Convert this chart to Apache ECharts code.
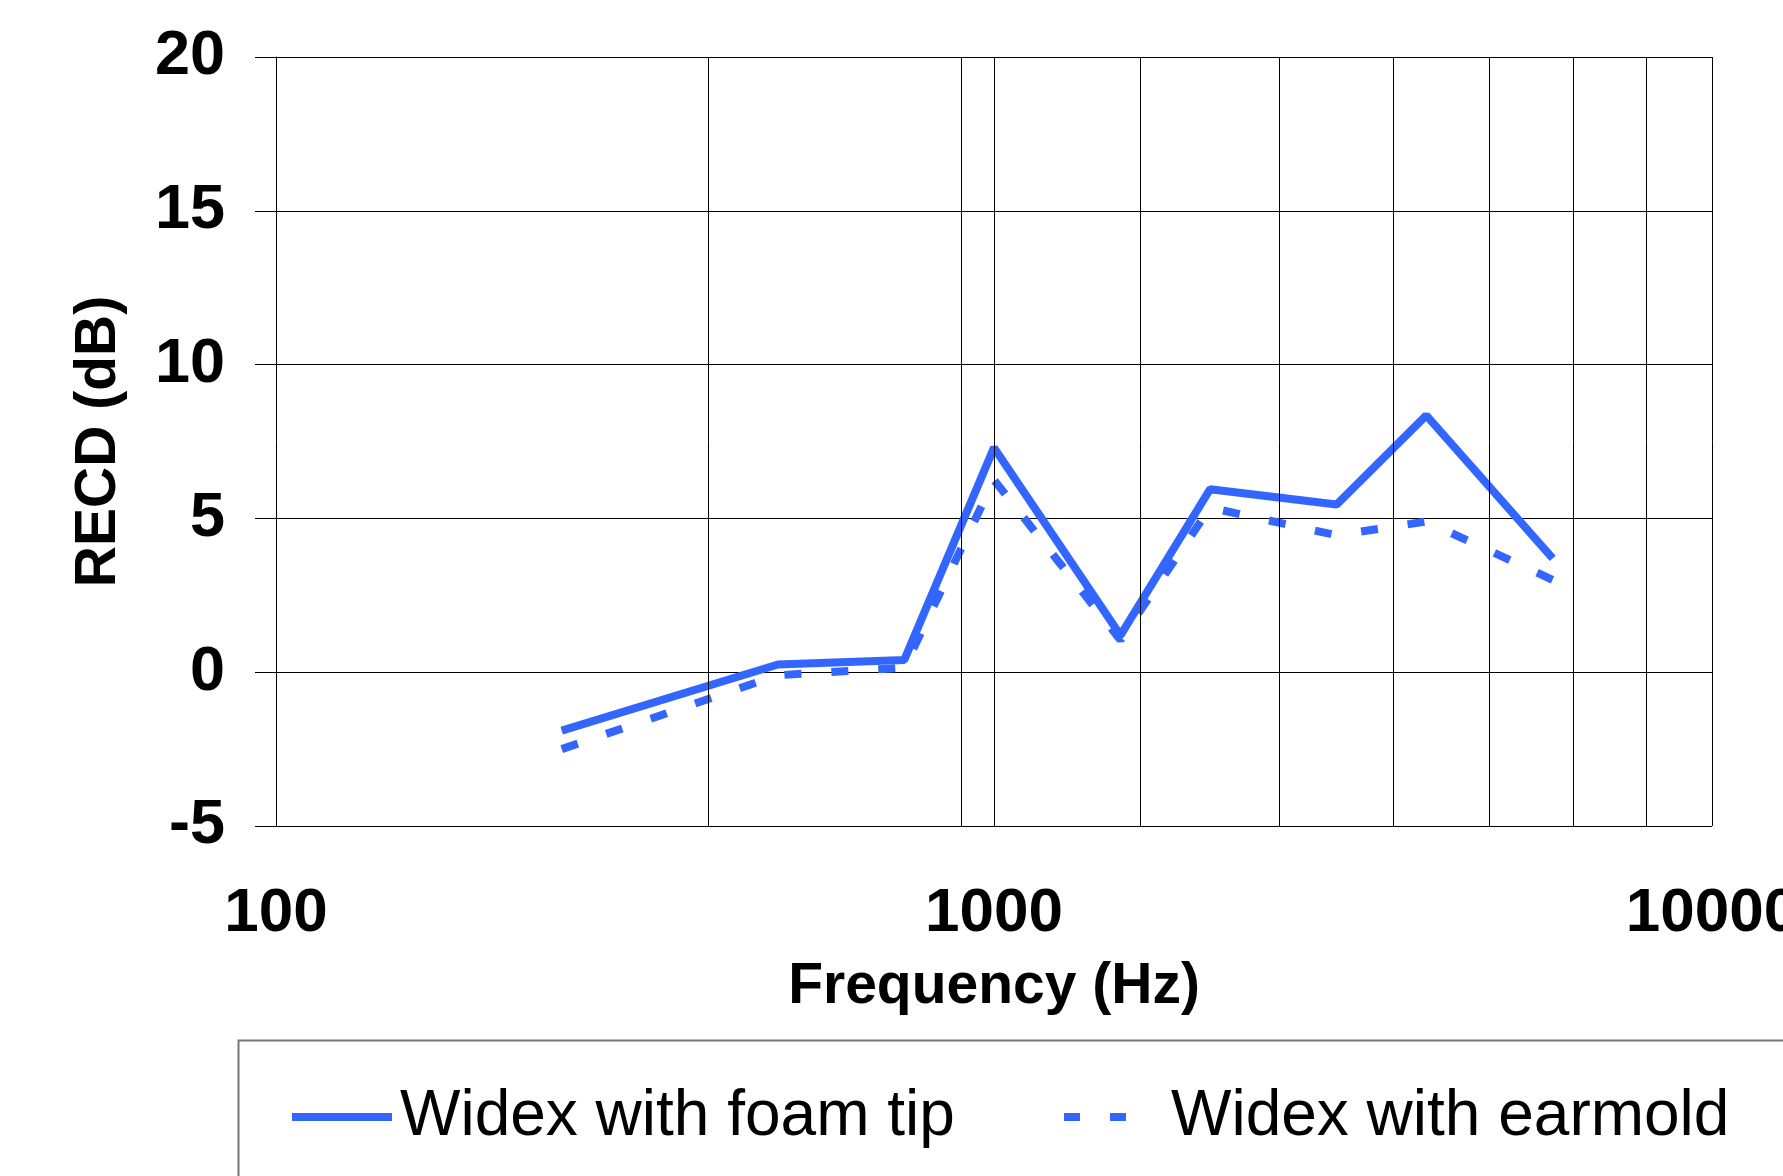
<!DOCTYPE html>
<html>
<head>
<meta charset="utf-8">
<script src="https://cdn.jsdelivr.net/npm/echarts@6/dist/echarts.min.js"></script>
<style>
html,body{margin:0;padding:0;background:#fff;}
#chart{width:1783px;height:1176px;}
</style>
</head>
<body>
<div id="chart"></div>
<script>
// ---- data ----
const frequencies = [250, 500, 750, 1000, 1500, 2000, 3000, 4000, 6000];
const foamTip = [-1.9, 0.25, 0.4, 7.3, 1.2, 5.95, 5.45, 8.35, 3.7];
const earmold = [-2.5, -0.1, 0.15, 6.25, 1.05, 5.35, 4.45, 4.9, 3.0];
const seriesNames = ['Widex with foam tip', 'Widex with earmold'];
const verticalGridFreqs = [400, 900, 1000, 1600, 2500, 3600, 4900, 6400, 8100, 10000];
const xTickLabels = ['100', '1000', '10000'];
const yTicks = [-5, 0, 5, 10, 15, 20];

const BLUE = '#3366FF';
const FONT = '"Liberation Sans", Arial, sans-serif';

function pairs(xs, ys) { return xs.map((x, i) => [x, ys[i]]); }

const chart = echarts.init(document.getElementById('chart'), null, {renderer: 'canvas'});
chart.setOption({
  animation: false,
  backgroundColor: '#fff',
  grid: {left: 276, right: 71, top: 57, bottom: 350, containLabel: false, outerBoundsMode: 'none'},
  xAxis: {
    type: 'log', logBase: 10, min: 100, max: 10000,
    name: 'Frequency (Hz)', nameLocation: 'middle', nameGap: 133,
    nameTextStyle: {fontFamily: FONT, fontWeight: 'bold', fontSize: 57, color: '#000'},
    axisLine: {show: true, lineStyle: {color: '#000', width: 1}},
    axisTick: {show: false},
    splitLine: {show: false},
    axisLabel: {
      fontFamily: FONT, fontWeight: 'bold', fontSize: 62, color: '#000', margin: 57,
      hideOverlap: false,
      formatter: v => { const s = String(Math.round(v)); return xTickLabels.includes(s) ? s : ''; }
    }
  },
  yAxis: {
    type: 'value', min: yTicks[0], max: yTicks[yTicks.length - 1], interval: 5,
    name: 'RECD (dB)', nameLocation: 'middle', nameGap: 148,
    nameTextStyle: {fontFamily: FONT, fontWeight: 'bold', fontSize: 57, color: '#000'},
    axisLine: {show: true, lineStyle: {color: '#000', width: 1}},
    axisTick: {show: true, inside: false, length: 21, lineStyle: {color: '#000', width: 1}},
    splitLine: {show: true, lineStyle: {color: '#000', width: 1}},
    axisLabel: {fontFamily: FONT, fontWeight: 'bold', fontSize: 63, color: '#000', margin: 51}
  },
  legend: [
    {
      data: [seriesNames[0]], left: 287, top: 1080, orient: 'horizontal',
      itemWidth: 100, itemHeight: 8, icon: 'path://M0,0 L100,0 L100,8 L0,8 Z',
      textStyle: {fontFamily: FONT, fontSize: 64, color: '#000', padding: [0, 0, 0, 3]}
    },
    {
      data: [seriesNames[1]], left: 1059, top: 1080, orient: 'horizontal',
      itemWidth: 62, itemHeight: 8,
      icon: 'path://M0,0 L16,0 L16,8 L0,8 Z M46,0 L62,0 L62,8 L46,8 Z',
      textStyle: {fontFamily: FONT, fontSize: 64, color: '#000', padding: [0, 0, 0, 40]}
    }
  ],
  graphic: [{
    type: 'rect', left: 236, top: 1038, silent: true,
    shape: {width: 1700, height: 300},
    style: {fill: 'none', stroke: '#777', lineWidth: 2}
  }],
  series: [
    {
      name: seriesNames[0], type: 'line', data: pairs(frequencies, foamTip),
      symbol: 'none', color: BLUE,
      lineStyle: {color: BLUE, width: 8, type: 'solid'},
      markLine: {
        silent: true, symbol: 'none', label: {show: false},
        lineStyle: {color: '#000', width: 1, type: 'solid'},
        data: verticalGridFreqs.map(f => ({xAxis: f}))
      },
      z: 3
    },
    {
      name: seriesNames[1], type: 'line', data: pairs(frequencies, earmold),
      symbol: 'none', color: BLUE,
      lineStyle: {color: BLUE, width: 8, type: [17, 30], cap: 'butt'},
      z: 3
    }
  ]
});
</script>
</body>
</html>
